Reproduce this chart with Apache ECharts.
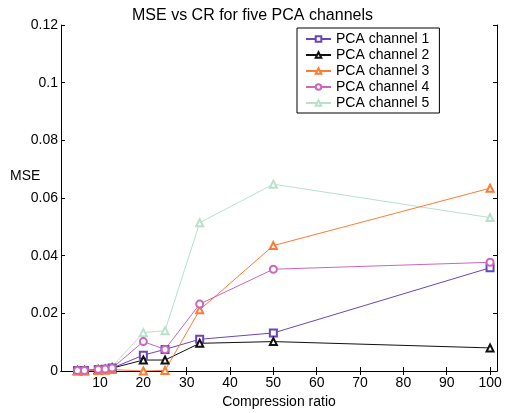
<!DOCTYPE html>
<html><head><meta charset="utf-8">
<script src="https://cdn.jsdelivr.net/npm/echarts@6/dist/echarts.min.js"></script>
<style>html,body{margin:0;padding:0;background:#fff}#c{width:505px;height:413px}</style>
</head><body><div id="c"></div>
<script>
const cr = [4.8, 6.4, 9.6, 11.2, 12.8, 20, 25, 33, 50, 100];
const ch1 = [0.0002, 0.0002, 0.0005, 0.0006, 0.0010, 0.0055, 0.0075, 0.0110, 0.0132, 0.0358];
const ch2 = [0.0001, 0.0001, 0.0004, 0.0005, 0.0010, 0.0038, 0.0038, 0.0096, 0.0102, 0.0080];
const ch3 = [0.0001, 0.0001, 0.0002, 0.0003, 0.0005, 0.0000, 0.0002, 0.0212, 0.0435, 0.0634];
const ch4 = [0.0002, 0.0002, 0.0006, 0.0007, 0.0010, 0.0102, 0.0075, 0.0232, 0.0353, 0.0377];
const ch5 = [0.0002, 0.0002, 0.0006, 0.0008, 0.0015, 0.0133, 0.0140, 0.0514, 0.0648, 0.0532];
const names = ['PCA channel 1','PCA channel 2','PCA channel 3','PCA channel 4','PCA channel 5'];
const xTicks = [10,20,30,40,50,60,70,80,90,100];
const yTicks = [0,0.02,0.04,0.06,0.08,0.1,0.12];

const colors = ['#6a45b8','#111111','#ff7a33','#cc66bb','#b9e0cc'];
const symbols = ['emptyRect','emptyTriangle','emptyTriangle','emptyCircle','emptyTriangle'];
const seriesData = [ch1,ch2,ch3,ch4,ch5];
const font = 'Liberation Sans, Arial, sans-serif';

const chart = echarts.init(document.getElementById('c'));
const axisCommon = {
  axisLine:{show:true,lineStyle:{color:'#000',width:1}},
  splitLine:{show:false}
};
chart.setOption({
  animation:false,
  title:{text:'MSE vs CR for five PCA channels',left:'center',top:3,
    textStyle:{fontFamily:font,fontSize:16,fontWeight:'normal',color:'#000'}},
  grid:{left:61,right:8,top:25,bottom:42,containLabel:false,outerBoundsMode:'none'},
  graphic:[{type:'text',left:10,top:169,style:{text:'MSE',fontFamily:font,fontSize:14,fill:'#000'}}],
  legend:{orient:'vertical',left:297,top:28,
    data:names,itemWidth:25,itemHeight:7,itemGap:2,itemTextGap:10,
    padding:[4,10,3,8],
    borderColor:'#000',borderWidth:1,backgroundColor:'#fff',
    textStyle:{fontFamily:font,fontSize:14,color:'#000',lineHeight:14}},
  xAxis:[
    Object.assign({type:'value',min:1,max:101.6,position:'bottom',
      name:'Compression ratio',nameLocation:'middle',nameGap:23,
      nameTextStyle:{fontFamily:font,fontSize:14,color:'#000'},
      axisTick:{show:true,inside:true,length:4,customValues:xTicks,lineStyle:{color:'#000'}},
      axisLabel:{customValues:xTicks,fontFamily:font,fontSize:14,color:'#000',margin:5}},axisCommon),
    Object.assign({type:'value',min:1,max:101.6,position:'top',
      axisTick:{show:true,inside:true,length:4,customValues:xTicks,lineStyle:{color:'#000'}},
      axisLabel:{show:false}},axisCommon)
  ],
  yAxis:[
    Object.assign({type:'value',min:0,max:0.12,interval:0.02,position:'left',
      axisTick:{show:true,inside:true,length:4,lineStyle:{color:'#000'}},
      axisLabel:{fontFamily:font,fontSize:14,color:'#000',margin:3,
        formatter:v=>String(+v.toFixed(2))}},axisCommon),
    Object.assign({type:'value',min:0,max:0.12,interval:0.02,position:'right',
      axisTick:{show:true,inside:true,length:4,lineStyle:{color:'#000'}},
      axisLabel:{show:false}},axisCommon)
  ],
  series: names.map((n,i)=>({
    name:n,type:'line',xAxisIndex:0,yAxisIndex:0,
    data:cr.map((x,j)=>[x,seriesData[i][j]]),
    symbol:symbols[i],symbolSize:7,
    lineStyle:{color:colors[i],width:1},
    itemStyle:{color:colors[i],borderColor:colors[i],borderWidth:0.8},
    z:i===4?1:2
  }))
});
</script></body></html>
